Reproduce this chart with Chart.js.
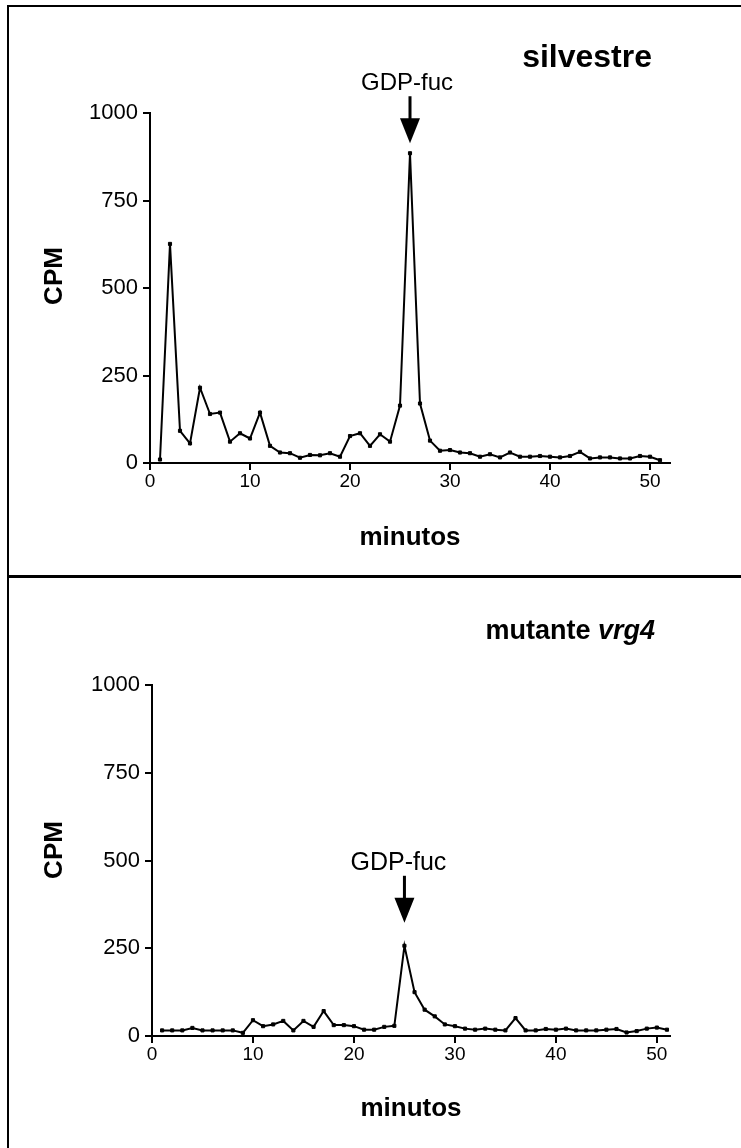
<!DOCTYPE html>
<html>
<head>
<meta charset="utf-8">
<script src="https://cdn.jsdelivr.net/npm/chart.js@4.4.1/dist/chart.umd.min.js"></script>
<style>
  html, body { margin: 0; padding: 0; background: #fff; }
  #page { position: relative; width: 741px; height: 1148px; overflow: hidden; background: #fff; }
  #page canvas { position: absolute; left: 0; }
  .rule { position: absolute; background: #000; }
</style>
</head>
<body>
<div id="page">
  <canvas id="wild" width="741" height="577" style="top:0"></canvas>
  <canvas id="mutant" width="741" height="571" style="top:577px"></canvas>
  <div class="rule" style="left:7px; top:5px; width:2px; height:1143px;"></div>
  <div class="rule" style="left:7px; top:5px; width:734px; height:2px;"></div>
  <div class="rule" style="left:7px; top:575px; width:734px; height:3px;"></div>
</div>
<script>
// Fraction times (minutes)
const minutes = [1, 2, 3, 4, 5, 6, 7, 8, 9, 10, 11, 12, 13, 14, 15, 16, 17, 18, 19, 20,
                 21, 22, 23, 24, 25, 26, 27, 28, 29, 30, 31, 32, 33, 34, 35, 36, 37, 38, 39, 40,
                 41, 42, 43, 44, 45, 46, 47, 48, 49, 50, 51];

// Radioactivity per fraction, wild type (silvestre)
const wildCpm = [10, 626, 92, 56, 215, 140, 144, 61, 85, 70, 144, 49, 30, 28, 15, 23, 22, 28, 18, 77,
                 85, 49, 82, 61, 164, 885, 170, 64, 35, 37, 30, 28, 18, 25, 16, 30, 18, 18, 20, 18,
                 16, 20, 32, 13, 16, 16, 13, 13, 20, 18, 8];

// Radioactivity per fraction, vrg4 mutant
const mutantCpm = [16, 16, 16, 23, 16, 16, 16, 16, 9, 45, 28, 33, 43, 16, 43, 26, 71, 31, 31, 28,
                   18, 18, 26, 29, 257, 125, 75, 56, 33, 28, 21, 18, 21, 18, 16, 51, 16, 16, 20, 18,
                   21, 16, 16, 16, 18, 20, 10, 14, 21, 24, 18];

const xTickValues = [0, 10, 20, 30, 40, 50];
const yTickValues = [0, 250, 500, 750, 1000];

// GDP-fucose standard elution time in each run
const gdpFucWild = 26;
const gdpFucMutant = 25;

const FONT = '"Liberation Sans", Arial, Helvetica, sans-serif';

// Panel decorations: title, rotated y label and the GDP-fuc marker arrow
const panelDecor = {
  id: 'panelDecor',
  afterDraw(chart, args, o) {
    const ctx = chart.ctx;
    const xs = chart.scales.x, ys = chart.scales.y;
    ctx.save();
    ctx.fillStyle = '#000';
    ctx.strokeStyle = '#000';

    // panel title (right aligned, pieces may be italic)
    let right = o.titleRight;
    for (let i = o.title.length - 1; i >= 0; i--) {
      const part = o.title[i];
      ctx.font = (part.italic ? 'italic ' : '') + 'bold ' + o.titleSize + 'px ' + FONT;
      ctx.textAlign = 'right';
      ctx.textBaseline = 'alphabetic';
      ctx.fillText(part.text, right, o.titleBaseline);
      right -= ctx.measureText(part.text).width;
    }

    // y axis label
    ctx.save();
    ctx.translate(55, o.yLabelCenter);
    ctx.rotate(-Math.PI / 2);
    ctx.font = 'bold 26px ' + FONT;
    ctx.textAlign = 'center';
    ctx.textBaseline = 'middle';
    ctx.fillText('CPM', 0, 0);
    ctx.restore();

    // GDP-fuc marker
    const idx = minutes.indexOf(o.markerMinute);
    const px = xs.getPixelForValue(o.markerMinute);
    const peak = ys.getPixelForValue(o.values[idx]);
    const tip = peak - o.gap;
    ctx.beginPath();
    ctx.moveTo(px - 10, tip - 25);
    ctx.lineTo(px + 10, tip - 25);
    ctx.lineTo(px, tip);
    ctx.closePath();
    ctx.fill();
    ctx.fillRect(px - 1.5, tip - 47, 3, 24);
    ctx.font = o.labelSize + 'px ' + FONT;
    ctx.textAlign = 'center';
    ctx.textBaseline = 'alphabetic';
    ctx.fillText('GDP-fuc', px + o.labelShift, tip - 53);
    ctx.restore();
  }
};

function makeChart(canvasId, values, cfg) {
  return new Chart(document.getElementById(canvasId), {
    type: 'line',
    data: {
      datasets: [{
        data: minutes.map((m, i) => ({ x: m, y: values[i] })),
        borderColor: '#000',
        borderWidth: 2,
        pointStyle: 'rect',
        pointRadius: 2.2,
        pointBackgroundColor: '#000',
        pointBorderColor: '#000',
        pointBorderWidth: 1,
        tension: 0,
        fill: false
      }]
    },
    options: {
      responsive: false,
      animation: false,
      devicePixelRatio: 1,
      layout: { padding: { left: 0, top: cfg.top, right: cfg.right, bottom: 0 } },
      plugins: {
        legend: { display: false },
        tooltip: { enabled: false },
        panelDecor: cfg.decor
      },
      scales: {
        x: {
          type: 'linear',
          min: 0,
          max: cfg.xMax,
          afterBuildTicks: s => { s.ticks = xTickValues.map(v => ({ value: v })); },
          afterFit: s => { s.height = cfg.xHeight; },
          grid: { display: true, drawOnChartArea: false, drawTicks: true, tickLength: 7, color: '#000', lineWidth: 2 },
          border: { display: true, color: '#000', width: 2 },
          ticks: { color: '#000', font: { family: FONT, size: 19 }, padding: 0, maxRotation: 0, autoSkip: false,
                   callback: v => String(v) },
          title: { display: true, text: 'minutos', color: '#000', font: { family: FONT, size: 26, weight: 'bold' }, padding: { top: 0, bottom: cfg.xTitlePad } }
        },
        y: {
          type: 'linear',
          min: 0,
          max: 1000,
          afterBuildTicks: s => { s.ticks = yTickValues.map(v => ({ value: v })); },
          afterFit: s => { s.width = cfg.left; },
          grid: { display: true, drawOnChartArea: false, drawTicks: true, tickLength: 7, color: '#000', lineWidth: 2 },
          border: { display: true, color: '#000', width: 2 },
          ticks: { color: '#000', font: { family: FONT, size: 22 }, padding: 5, callback: v => String(v) }
        }
      }
    },
    plugins: [panelDecor]
  });
}

makeChart('wild', wildCpm, {
  top: 113, right: 71, left: 150, xMax: 52, xHeight: 114, xTitlePad: 24,
  decor: {
    title: [{ text: 'silvestre', italic: false }],
    titleRight: 652, titleBaseline: 67, titleSize: 32, yLabelCenter: 276,
    markerMinute: gdpFucWild, values: wildCpm, gap: 10, labelSize: 24, labelShift: -3
  }
});

makeChart('mutant', mutantCpm, {
  top: 108, right: 71, left: 152, xMax: 51.3, xHeight: 112, xTitlePad: 24,
  decor: {
    title: [{ text: 'mutante ', italic: false }, { text: 'vrg4', italic: true }],
    titleRight: 655, titleBaseline: 62, titleSize: 27, yLabelCenter: 273,
    markerMinute: gdpFucMutant, values: mutantCpm, gap: 23, labelSize: 25, labelShift: -6
  }
});
</script>
</body>
</html>
